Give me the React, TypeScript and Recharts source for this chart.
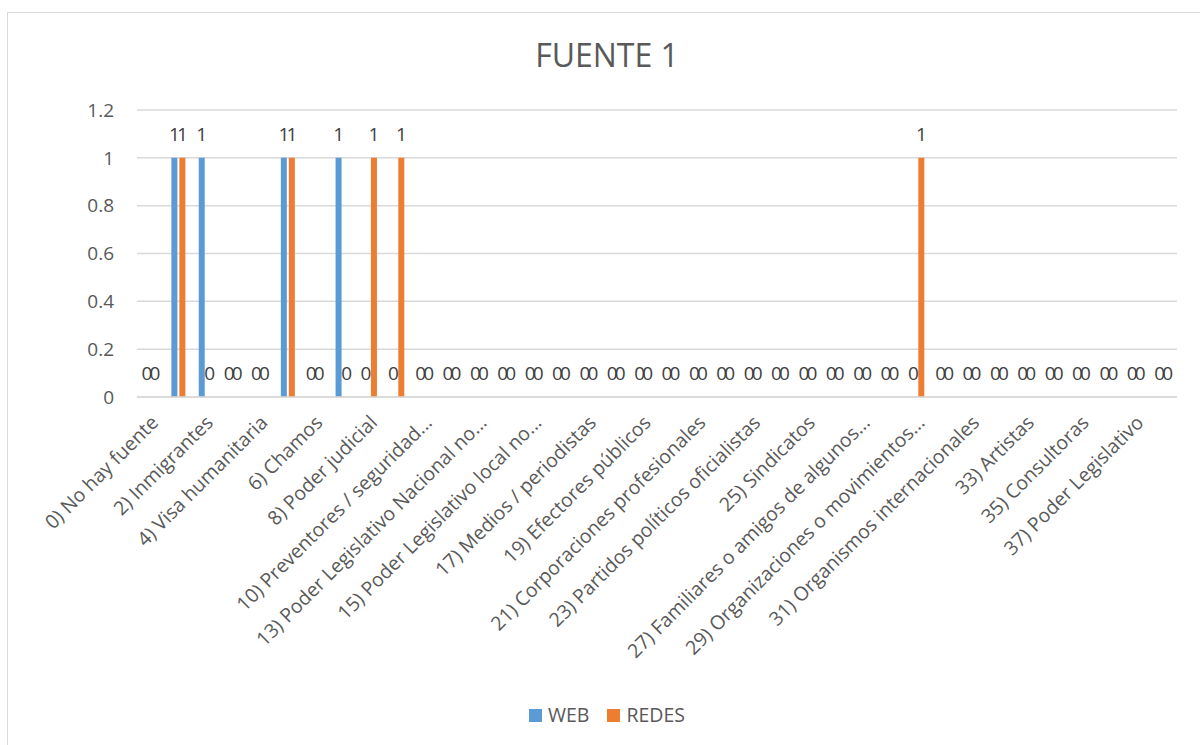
import { BarChart, Bar, XAxis, YAxis, CartesianGrid, LabelList } from "recharts";

const categories = [
  "0) No hay fuente",
  "1) Migrantes venezolanos",
  "2) Inmigrantes",
  "3) Refugiados",
  "4) Visa humanitaria",
  "5) Residentes",
  "6) Chamos",
  "7) Funcionarios",
  "8) Poder judicial",
  "9) Poder Ejecutivo",
  "10) Preventores / seguridad...",
  "11) Fuerzas armadas",
  "13) Poder Legislativo Nacional no...",
  "14) Poder Ejecutivo Nacional",
  "15) Poder Legislativo local no...",
  "16) Poder Ejecutivo local",
  "17) Medios / periodistas",
  "18) Académicos / expertos",
  "19) Efectores públicos",
  "20) Empresas",
  "21) Corporaciones profesionales",
  "22) ONG",
  "23) Partidos políticos oficialistas",
  "24) Partidos políticos opositores",
  "25) Sindicatos",
  "26) Iglesias",
  "27) Familiares o amigos de algunos...",
  "28) Vecinos",
  "29) Organizaciones o movimientos...",
  "30) Organizaciones de migrantes",
  "31) Organismos internacionales",
  "32) Embajadas",
  "33) Artistas",
  "34) Deportistas",
  "35) Consultoras",
  "36) Celebridades",
  "37) Poder Legislativo",
  "38) Otros",
];

const web = [0, 1, 1, 0, 0, 1, 0, 1, 0, 0, 0, 0, 0, 0, 0, 0, 0, 0, 0, 0, 0, 0, 0, 0, 0, 0, 0, 0, 0, 0, 0, 0, 0, 0, 0, 0, 0, 0];
const redes = [0, 1, 0, 0, 0, 1, 0, 0, 1, 1, 0, 0, 0, 0, 0, 0, 0, 0, 0, 0, 0, 0, 0, 0, 0, 0, 0, 0, 1, 0, 0, 0, 0, 0, 0, 0, 0, 0];

const yTicks = [0, 0.2, 0.4, 0.6, 0.8, 1, 1.2];

const series = [
  { key: "WEB", values: web, color: "#5B9BD5" },
  { key: "REDES", values: redes, color: "#ED7D31" },
];

const data = categories.map((name, i) => ({ name, WEB: web[i], REDES: redes[i] }));

const FONT = "'Open Sans', sans-serif";

function AngledTick(props: any) {
  const { x, y, payload } = props;
  return (
    <g transform={`translate(${x + 4},${y + 14})`}>
      <text
        transform="rotate(-45)"
        textAnchor="end"
        dy="0.35em"
        fill="#595959"
        style={{ fontSize: 19.5, fontFamily: FONT }}
      >
        {payload.value}
      </text>
    </g>
  );
}

export default function App() {
  return (
    <div style={{ position: "fixed", left: 0, top: 0, width: 1200, height: 745, overflow: "hidden", background: "#fff" }}>
      <div
        style={{
          position: "absolute",
          left: 7,
          top: 12,
          width: 1198,
          height: 740,
          border: "1px solid #d9d9d9",
          fontFamily: FONT,
        }}
      >
        <div
          style={{
            position: "absolute",
            top: 21,
            left: 0,
            width: 1198,
            textAlign: "center",
            fontSize: 32,
            color: "#595959",
            lineHeight: "42px",
          }}
        >
          FUENTE 1
        </div>
        <BarChart
          width={1198}
          height={733}
          data={data}
          margin={{ top: 97, right: 29, left: 0, bottom: 0 }}
          barGap={2}
          barSize={6}
        >
          <CartesianGrid vertical={false} stroke="#d9d9d9" strokeWidth={1.5} />
          <XAxis
            dataKey="name"
            interval={1}
            height={349}
            tickLine={false}
            axisLine={{ stroke: "#d9d9d9", strokeWidth: 1.5 }}
            tick={<AngledTick />}
          />
          <YAxis
            domain={[0, 1.2]}
            ticks={yTicks}
            width={129}
            tickLine={false}
            axisLine={false}
            tickMargin={17}
            tick={{ fill: "#595959", fontSize: 19, fontFamily: FONT }}
          />
          {series.map((s) => (
            <Bar
              key={s.key}
              dataKey={s.key}
              fill={s.color}
              minPointSize={0.01}
              isAnimationActive={false}
            >
              <LabelList
                dataKey={s.key}
                position="top"
                offset={17}
                fill="#404040"
                style={{ fontSize: 19, fontFamily: FONT }}
              />
            </Bar>
          ))}
        </BarChart>
        <div
          style={{
            position: "absolute",
            top: 690,
            left: 0,
            width: 1198,
            display: "flex",
            justifyContent: "center",
            gap: 18,
            fontSize: 19.5,
            color: "#595959",
            lineHeight: "24px",
          }}
        >
          {series.map((s) => (
            <div key={s.key} style={{ display: "flex", alignItems: "center", gap: 6 }}>
              <span style={{ width: 13, height: 13, background: s.color, display: "inline-block" }} />
              <span>{s.key}</span>
            </div>
          ))}
        </div>
      </div>
    </div>
  );
}
